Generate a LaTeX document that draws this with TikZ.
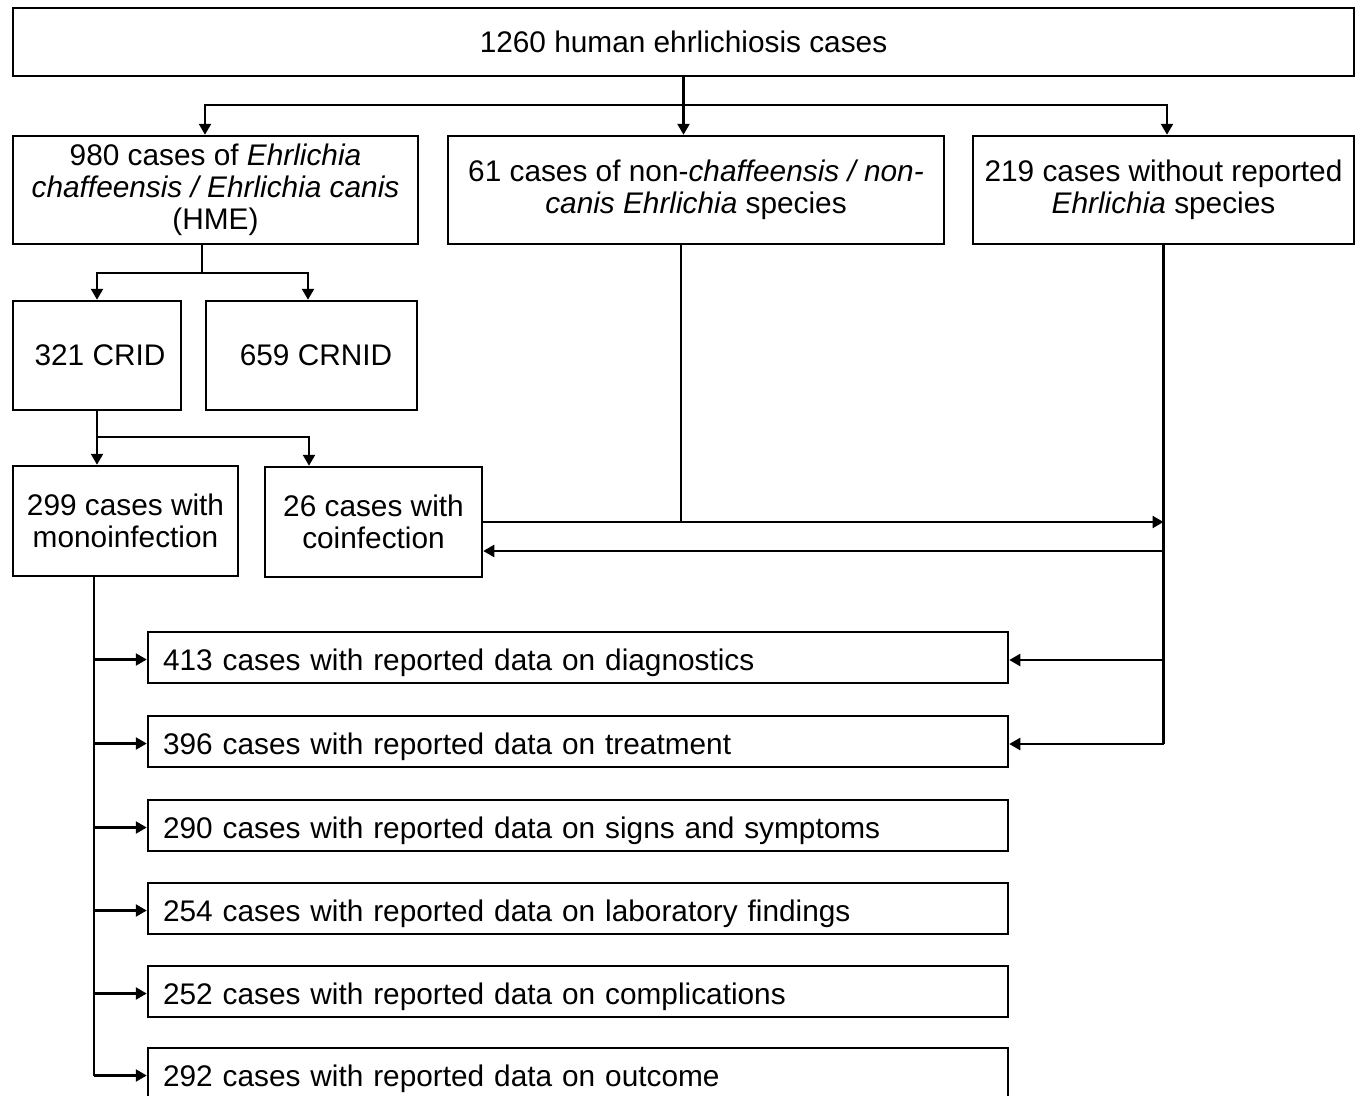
\documentclass[tikz,border=0pt]{standalone}
\usepackage{fontspec}
\setmainfont{Liberation Sans}
\usepackage{tikz}
\usetikzlibrary{arrows.meta, positioning, calc}

\begin{document}
\begin{tikzpicture}[x=1pt, y=-1pt,
  font=\fontsize{29.8}{32}\selectfont,
  box/.style={draw, line width=2.5pt, inner sep=0pt, align=center},
  databox/.style={draw, line width=2.5pt, inner xsep=15pt, inner ysep=0pt,
                  text width=830pt, minimum height=51pt, align=left},
  link/.style={line width=2.4pt},
  arr/.style={line width=2.4pt, -{Triangle[length=11pt,width=12pt]}}]
\useasboundingbox (0,0) rectangle (1362,1095);

% Case selection
\node[box, minimum width=1341pt, minimum height=68pt] (total) at (683.5,42)
      {1260 human ehrlichiosis cases};
\node[box, minimum width=405pt, minimum height=108pt] (hme) at (215.5,190)
      {980 cases of \textit{Ehrlichia}\\\textit{chaffeensis / Ehrlichia canis}\\(HME)};
\node[box, minimum width=496pt, minimum height=108pt] (noncanis) at (696,190)
      {61 cases of non-\textit{chaffeensis / non-}\\\textit{canis Ehrlichia} species};
\node[box, minimum width=381pt, minimum height=108pt] (unrep) at (1163.5,190)
      {219 cases without reported\\\textit{Ehrlichia} species};

\node[box, minimum width=168pt, minimum height=109pt] (crid) at (97,355.5)
      {\hspace*{6pt}321 CRID};
\node[box, minimum width=211pt, minimum height=109pt] (crnid) at (311.5,355.5)
      {\hspace*{9pt}659 CRNID};

\node[box, minimum width=225pt, minimum height=110pt] (mono) at (125.5,521)
      {299 cases with\\monoinfection};
\node[box, minimum width=217pt, minimum height=110pt] (coinf) at (373.5,522)
      {26 cases with\\coinfection};

% Reported data
\foreach \n/\y/\txt in {1/657.5/413 cases with reported data on diagnostics,
                        2/741.5/396 cases with reported data on treatment,
                        3/825.5/290 cases with reported data on signs and symptoms,
                        4/908.5/254 cases with reported data on laboratory findings,
                        5/991.5/252 cases with reported data on complications,
                        6/1073.5/292 cases with reported data on outcome}
  \node[databox, text height=29pt, text depth=4pt] (data\n) at (578,\y) {\txt};

% Connectors
\coordinate (split) at ($(total.south)+(0,28)$);
\draw[arr] (total.south) -- (total.south |- noncanis.north);
\draw[arr] (split) -| ([xshift=-10.5pt]hme.north);
\draw[arr] (split) -| ([xshift=3.5pt]unrep.north);

\coordinate (hmeout) at ([xshift=-13.5pt]hme.south);
\coordinate (split2) at ($(hmeout)+(0,28)$);
\draw[link] (hmeout) -- (split2);
\draw[arr] (split2) -| (crid.north);
\draw[arr] (split2) -| ([xshift=-3.5pt]crnid.north);

\coordinate (split3) at ($(crid.south)+(0,26)$);
\draw[link] (crid.south) -- (split3);
\draw[arr] (split3) -- (split3 |- mono.north);
\draw[arr] (split3) -| ([xshift=-64.5pt]coinf.north);

\coordinate (ncout) at ([xshift=-15pt]noncanis.south);
\draw[link] (ncout) -- (ncout |- coinf.east);
\draw[arr] (coinf.east) -- (coinf.east -| unrep.south);
\coordinate (backin) at ([yshift=-29pt]coinf.east);
\draw[arr] (backin -| unrep.south) -- (backin);

\draw[link] (unrep.south) -- ([yshift=-2.5pt]unrep.south |- data2.east);
\draw[arr] ([yshift=-2.5pt]unrep.south |- data1.east) -- ([yshift=-2.5pt]data1.east);
\draw[arr] ([yshift=-2.5pt]unrep.south |- data2.east) -- ([yshift=-2.5pt]data2.east);

\coordinate (trunk) at ([xshift=-31.5pt]mono.south);
\draw[link] (trunk) -- ([yshift=-2pt]trunk |- data6.west);
\foreach \n in {1,...,6}
  \draw[arr] ([yshift=-2pt]trunk |- data\n.west) -- ([yshift=-2pt]data\n.west);
\end{tikzpicture}
\end{document}
